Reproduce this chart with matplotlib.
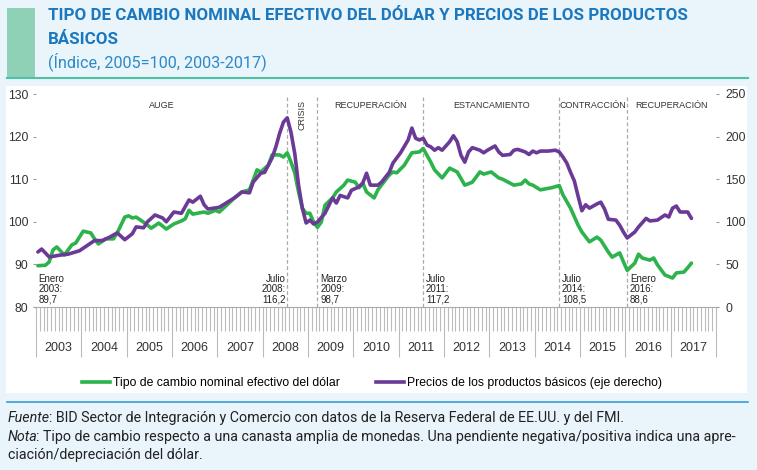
import matplotlib
matplotlib.use('Agg')
import matplotlib.pyplot as plt
import numpy as np
from matplotlib.patches import Rectangle
from matplotlib.lines import Line2D

plt.rcParams['font.family'] = ['Liberation Sans', 'DejaVu Sans']

# ---------------- data (months since Jan 2003) ----------------
g_m = [0, 2, 3, 4, 5, 7, 9, 10, 12, 14, 15, 16, 18, 20, 21, 23, 24, 25, 26, 28, 30, 32, 34, 36, 38, 39,
       40, 41, 44, 45, 47, 48, 50, 52, 54, 56, 57, 58, 59, 61, 62, 64, 65, 66, 67, 68, 69, 70, 71, 72,
       73, 74, 75, 76, 78, 79, 81, 82, 84, 85, 86, 87, 89, 90, 93, 94, 95, 97, 99, 101, 102, 104, 105,
       107, 109, 111, 113, 115, 117, 118, 120, 122, 123, 126, 128, 129, 130, 131, 133, 136, 138, 139,
       141, 143, 144, 146, 148, 149, 151, 152, 154, 155, 156, 158, 159, 160, 162, 163, 164, 166, 168,
       169, 171, 172, 173]
g_v = [89.7, 89.8, 90.6, 93.4, 94.1, 92.2, 94.6, 95.0, 97.8, 97.4, 96.0, 94.8, 96.0, 96.0, 97.4, 101.1,
       101.4, 100.9, 101.1, 99.9, 98.5, 99.7, 98.3, 99.5, 100.2, 100.7, 102.7, 101.8, 102.3, 102.0,
       102.7, 102.3, 103.9, 105.6, 107.0, 107.5, 109.8, 112.2, 111.7, 113.3, 115.7, 115.7, 115.2,
       116.2, 114.0, 111.5, 107.0, 103.2, 102.0, 102.0, 99.9, 98.7, 99.9, 103.9, 105.6, 107.0, 108.6,
       109.8, 109.3, 108.0, 109.1, 107.0, 105.6, 107.5, 111.0, 111.7, 111.5, 113.3, 116.2, 116.4,
       117.2, 114.0, 112.2, 110.3, 112.6, 111.7, 108.6, 109.3, 111.7, 111.2, 111.7, 110.3, 110.0,
       108.6, 108.9, 109.8, 108.9, 108.6, 107.5, 108.0, 108.5, 106.3, 103.2, 99.2, 97.6, 95.3, 96.4,
       95.7, 92.9, 91.7, 92.7, 90.6, 88.6, 90.3, 92.4, 91.5, 91.0, 91.5, 89.9, 87.5, 86.8, 88.0, 88.2,
       89.2, 90.3]

p_m = [0, 1, 3, 6, 8, 11, 13, 15, 17, 19, 21, 23, 25, 26, 28, 29, 31, 33, 34, 36, 38, 40, 41, 43, 44,
       45, 48, 52, 54, 56, 57, 59, 60, 62, 63, 64, 65, 66, 67, 68, 69, 70, 71, 72, 73, 74, 76, 78, 79,
       80, 82, 83, 85, 86, 87, 88, 90, 91, 93, 94, 96, 98, 99, 100, 101, 102, 103, 104, 105, 106, 107,
       109, 110, 111, 112, 113, 114, 115, 117, 118, 119, 121, 122, 123, 125, 126, 127, 129, 130, 131,
       132, 133, 135, 137, 138, 139, 140, 141, 142, 143, 144, 145, 146, 147, 148, 149, 150, 151, 153,
       154, 155, 156, 158, 159, 161, 162, 164, 166, 167, 168, 169, 170, 172, 173]
p_v = [64.6, 68, 58.7, 61, 62, 66, 72, 78, 78, 82, 87, 79, 86, 94, 93, 100, 108, 104.5, 100, 111.5, 110,
       125.6, 123, 130, 120, 115, 117, 128, 135, 134, 146.7, 157, 158, 175, 188, 204, 217, 222, 205,
       180, 143, 116, 98.6, 102, 97.4, 99.8, 110, 128, 122, 131, 128, 137, 141, 145.5, 157, 143, 143,
       146.7, 158, 169, 181, 196, 210, 198, 196, 198, 190, 188, 184, 187, 184, 194, 201, 194, 178, 170,
       182, 187, 184, 181, 184, 189, 182, 178, 179, 184, 185, 182, 179, 183, 181, 183, 183, 184, 182,
       176, 169, 158, 148, 130, 113, 120, 116, 118.5, 121, 123, 115, 103, 102, 96, 88, 81, 88, 94, 104,
       101, 102, 108, 105.6, 116, 118.5, 111.5, 111.5, 104]

years = list(range(2003, 2018))
left_ticks = [80, 90, 100, 110, 120, 130]
right_ticks = [0, 50, 100, 150, 200, 250]

period_bounds = [0, 66.5, 74.5, 102.5, 138.5, 156.5, 180]
period_names = ['AUGE', 'CRISIS', 'RECUPERACIÓN', 'ESTANCAMIENTO', 'CONTRACCIÓN', 'RECUPERACIÓN']

ann_months = [0, 66, 74, 102, 138, 156]
ann_texts = ['Enero\n2003:\n89,7', 'Julio\n2008:\n116,2', 'Marzo\n2009:\n98,7',
             'Julio\n2011:\n117,2', 'Julio\n2014:\n108,5', 'Enero\n2016:\n88,6']
ann_align = ['left', 'right', 'left', 'left', 'left', 'left']

green_label = 'Tipo de cambio nominal efectivo del dólar'
purple_label = 'Precios de los productos básicos (eje derecho)'

GREEN = '#2DB34B'
PURPLE = '#6B3A97'
BLUE = '#1B78BE'

# ---------------- figure ----------------
W, H = 757, 470
fig = plt.figure(figsize=(W / 100, H / 100), dpi=100, facecolor='#EAF4FB')


def fx(x):
    return x / W


def fy(y):
    return 1 - y / H


fig.patches.append(Rectangle((fx(6), fy(393)), 741 / W, 307 / H, transform=fig.transFigure,
                             facecolor='white', edgecolor='none', zorder=-2))
fig.patches.append(Rectangle((fx(7), fy(77)), 28 / W, 69 / H, transform=fig.transFigure,
                             facecolor='#8FD1B7', edgecolor='none', zorder=-1))
fig.lines.append(Line2D([fx(7), fx(748)], [fy(78), fy(78)], transform=fig.transFigure,
                        color='#4CC3A5', lw=1.5, zorder=-1))
fig.lines.append(Line2D([fx(7), fx(748)], [fy(402), fy(402)], transform=fig.transFigure,
                        color='#3A9CD6', lw=1.2, zorder=-1))

fig.text(fx(48), fy(16), 'TIPO DE CAMBIO NOMINAL EFECTIVO DEL DÓLAR Y PRECIOS DE LOS PRODUCTOS',
         family='Roboto', weight='bold', fontsize=12.2, color=BLUE, va='center')
fig.text(fx(48), fy(39), 'BÁSICOS', family='Roboto', weight='bold', fontsize=12.2, color=BLUE,
         va='center')
fig.text(fx(48), fy(62), '(Índice, 2005=100, 2003-2017)', family='Roboto', fontsize=11.7,
         color='#2C8ACB', va='center')

# ---------------- axes ----------------
ax = fig.add_axes([fx(36), fy(307), (716 - 36) / W, (307 - 94) / H])
ax.set_xlim(0, 180)
ax.set_ylim(80, 130)
ax.patch.set_alpha(0)
for s in ['top', 'right', 'left']:
    ax.spines[s].set_visible(False)
ax.spines['bottom'].set_color('#AAAAAA')
ax.spines['bottom'].set_linewidth(0.8)

ax.set_yticks(left_ticks)
ax.tick_params(axis='y', length=2.5, width=0.8, color='#999999', labelsize=8.7,
               labelcolor='#333333', pad=3)
ax.set_xticks(range(0, 181, 12))
ax.set_xticklabels([])
ax.set_xticks(range(0, 181), minor=True)
ax.tick_params(axis='x', which='major', length=36, width=0.8, color='#BBBBBB')
ax.tick_params(axis='x', which='minor', length=17, width=0.8, color='#BBBBBB')

sec = ax.secondary_xaxis('bottom')
sec.set_xticks([6 + 12 * i for i in range(len(years))], [str(y) for y in years])
sec.tick_params(length=0, pad=25, labelsize=9, labelcolor='#333333')
sec.spines['bottom'].set_visible(False)

ax2 = ax.twinx()
ax2.set_ylim(0, 250)
ax2.set_yticks(right_ticks)
for s in ['top', 'right', 'left', 'bottom']:
    ax2.spines[s].set_visible(False)
ax2.tick_params(axis='y', length=2.5, width=0.8, color='#999999', labelsize=8.7,
                labelcolor='#333333', pad=4)

# boundaries and period labels
ax.vlines(period_bounds[1:-1], 80, 129.2, colors='#AAAAAA', linestyles=(0, (3, 2)), lw=0.9, zorder=1)
for i, name in enumerate(period_names):
    c = (period_bounds[i] + period_bounds[i + 1]) / 2
    if name == 'CRISIS':
        ax.text(c, 128.6, name, rotation=90, ha='center', va='top', fontsize=6.5, color='#333333')
    else:
        ax.text(c, 127.4, name, ha='center', va='center', fontsize=6.5, color='#333333')

ax.plot(np.array(g_m) + 0.5, g_v, color=GREEN, lw=2.6, solid_joinstyle='round',
        solid_capstyle='round', zorder=3)
ax2.plot(np.array(p_m) + 0.5, p_v, color=PURPLE, lw=2.6, solid_joinstyle='round',
         solid_capstyle='round', zorder=3)

for m, t, a in zip(ann_months, ann_texts, ann_align):
    off = -1.2 if a == 'right' else 2.0
    if m == 0:
        off = 0.3
    ax.annotate(t, xy=(m + 0.5, 80), xytext=(off, 2), textcoords='offset points', ha=a,
                va='bottom', fontsize=7, linespacing=1.0, color='#222222')

handles = [Line2D([], [], color=GREEN, lw=2.6), Line2D([], [], color=PURPLE, lw=2.6)]
fig.legend(handles, [green_label, purple_label], loc='center', bbox_to_anchor=(fx(372), fy(383)),
           ncol=2, frameon=False, fontsize=8.8, handlelength=2.3, handletextpad=0.3,
           columnspacing=2.9)

# ---------------- footer ----------------
fig.canvas.draw()
renderer = fig.canvas.get_renderer()
FOOT = dict(family='Roboto', fontsize=10.3, color='#222222', va='center')


def mixed(x, y, ital, rest):
    t = fig.text(fx(x), fy(y), ital, style='italic', **FOOT)
    bb = t.get_window_extent(renderer)
    fig.text((bb.x1 - 1.5) / W, fy(y), rest, **FOOT)


mixed(8, 418, 'Fuente', ': BID Sector de Integración y Comercio con datos de la Reserva Federal de EE.UU. y del FMI.')
mixed(8, 437, 'Nota', ': Tipo de cambio respecto a una canasta amplia de monedas. Una pendiente negativa/positiva indica una apre-')
fig.text(fx(8), fy(455), 'ciación/depreciación del dólar.', **FOOT)

fig.savefig('out.png', dpi=100, facecolor=fig.get_facecolor())
